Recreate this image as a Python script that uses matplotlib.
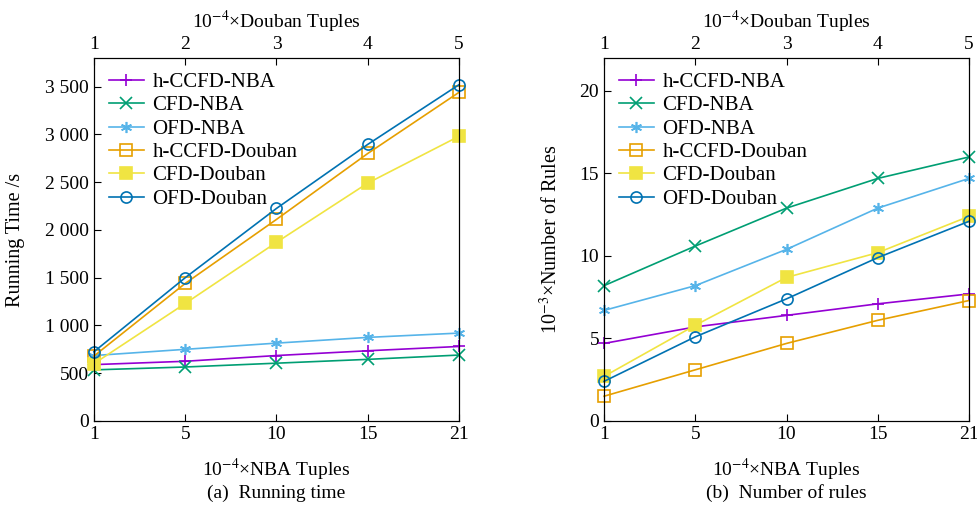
import matplotlib.pyplot as plt
import numpy as np

plt.rcParams['font.family'] = ['Liberation Serif', 'DejaVu Serif']
plt.rcParams['mathtext.fontset'] = 'stix'

################## data #############################
nba_ticks = ['1', '5', '10', '15', '21']
douban_ticks = ['1', '2', '3', '4', '5']
names = ['h-CCFD-NBA', 'CFD-NBA', 'OFD-NBA', 'h-CCFD-Douban', 'CFD-Douban', 'OFD-Douban']

time_hccfd_nba = [590, 625, 685, 735, 780]
time_cfd_nba = [535, 565, 605, 645, 690]
time_ofd_nba = [685, 750, 815, 875, 920]
time_hccfd_douban = [680, 1440, 2110, 2800, 3440]
time_cfd_douban = [600, 1230, 1870, 2490, 2980]
time_ofd_douban = [725, 1500, 2225, 2895, 3520]

rules_hccfd_nba = [4.7, 5.7, 6.4, 7.1, 7.7]
rules_cfd_nba = [8.2, 10.6, 12.9, 14.7, 16.0]
rules_ofd_nba = [6.7, 8.2, 10.4, 12.9, 14.7]
rules_hccfd_douban = [1.5, 3.1, 4.7, 6.1, 7.3]
rules_cfd_douban = [2.7, 5.8, 8.7, 10.2, 12.4]
rules_ofd_douban = [2.4, 5.1, 7.4, 9.9, 12.1]

colors = ['#9400D3', '#009E73', '#56B4E9', '#E69F00', '#F0E442', '#0072B2']
markers = ['+', 'x', (6, 2, 0), 's', 's', 'o']
fills = ['full', 'full', 'full', 'none', 'full', 'none']

fig = plt.figure(figsize=(9.78, 5.18), dpi=100)
ax1 = fig.add_axes([0.0961, 0.1873, 0.3732, 0.7008])
ax2 = fig.add_axes([0.6176, 0.1873, 0.3732, 0.7008])

time_series = [time_hccfd_nba, time_cfd_nba, time_ofd_nba, time_hccfd_douban, time_cfd_douban, time_ofd_douban]
rule_series = [rules_hccfd_nba, rules_cfd_nba, rules_ofd_nba, rules_hccfd_douban, rules_cfd_douban, rules_ofd_douban]
x = np.arange(len(nba_ticks))

for ax, series in [(ax1, time_series), (ax2, rule_series)]:
    for i in range(6):
        ax.plot(x, series[i], color=colors[i], marker=markers[i], fillstyle=fills[i],
                markersize=8, markeredgewidth=1.2, linewidth=1.2, label=names[i],
                clip_on=False)
    ax.set_xlim(0, 4)
    ax.set_xticks(x)
    ax.set_xticklabels(nba_ticks)
    ax.tick_params(direction='in', labelsize=14, length=5, right=False)
    ax.set_xlabel(r'10$^{-4}$×NBA Tuples', fontsize=14, labelpad=10)
    ax.legend(loc='upper left', frameon=False, fontsize=15, handlelength=1.7,
              borderaxespad=0.3, borderpad=0.4, labelspacing=0.18, handletextpad=0.4)
    top = ax.twiny()
    top.set_xlim(0, 4)
    top.set_xticks(x)
    top.set_xticklabels(douban_ticks)
    top.tick_params(direction='in', labelsize=14, length=5)
    top.set_xlabel(r'10$^{-4}$×Douban Tuples', fontsize=14, labelpad=6)

ax1.set_ylim(0, 3800)
ax1.set_yticks(np.arange(0, 3501, 500))
ax1.set_yticklabels(['0', '500', '1 000', '1 500', '2 000', '2 500', '3 000', '3 500'])
ax1.set_ylabel('Running Time /s', fontsize=14.5)
ax1.yaxis.set_label_coords(-0.19, 0.5)

ax2.set_ylim(0, 22)
ax2.set_yticks([0, 5, 10, 15, 20])
ax2.set_ylabel(r'10$^{-3}$×Number of Rules', fontsize=14.5)
ax2.yaxis.set_label_coords(-0.115, 0.5)

fig.text(0.282, 0.048, '(a)  Running time', ha='center', va='center', fontsize=14)
fig.text(0.804, 0.048, '(b)  Number of rules', ha='center', va='center', fontsize=14)

fig.savefig('out.png', dpi=100)
